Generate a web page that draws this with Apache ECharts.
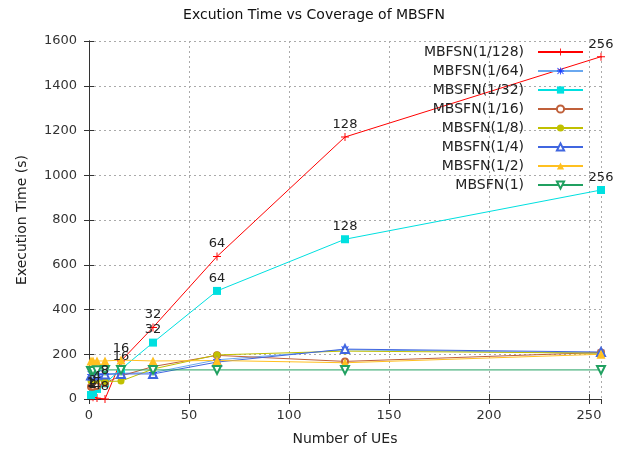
<!DOCTYPE html>
<html>
<head>
<meta charset="utf-8">
<script src="https://cdn.jsdelivr.net/npm/echarts@6/dist/echarts.min.js"></script>
<style>
  html, body { margin: 0; padding: 0; background: #fff; }
  #main { width: 628px; height: 457px; }
</style>
</head>
<body>
<div id="main"></div>
<script>
// number of UEs (x values)
var ues = [1, 2, 4, 8, 16, 32, 64, 128, 256];
// execution time (s) per coverage
var mbsfn128 = [12, 8, 4, 0, 170, 320, 637, 1171, 1530];
var mbsfn64 = [110, 110, 112, 112, 115, 118, 175, 220, 205];
var mbsfn32 = [18, 28, 45, 70, 133, 252, 483, 714, 934];
var mbsfn16 = [55, 55, 58, 72, 103, 145, 195, 168, 208];
var mbsfn8 = [82, 82, 85, 78, 80, 134, 197, 214, 205];
var mbsfn4 = [105, 105, 108, 110, 112, 112, 165, 223, 210];
var mbsfn2 = [170, 170, 170, 170, 174, 170, 172, 162, 200];
var mbsfn1 = [125, 125, 128, 130, 130, 130, 130, 130, 130];
var yTicks = [0, 200, 400, 600, 800, 1000, 1200, 1400, 1600];
var xTicks = [0, 50, 100, 150, 200, 250];

var FONT = 'DejaVu Sans';
var plus = 'path://M4.4,0h1.2v10h-1.2zM0,4.4h10v1.2h-10z';
var star = 'path://M4.4,0h1.2v10h-1.2zM0,4.4h10v1.2h-10zM1.2,0.35L9.65,8.8L8.8,9.65L0.35,1.2zM8.8,0.35L9.65,1.2L1.2,9.65L0.35,8.8z';

function pairs(vals) {
  var out = [];
  for (var i = 0; i < ues.length; i++) out.push([ues[i], vals[i]]);
  return out;
}

function mkSeries(name, vals, color, symbol, opts) {
  opts = opts || {};
  var s = {
    name: name,
    type: 'line',
    data: pairs(vals),
    symbol: symbol,
    symbolSize: opts.size || 7,
    symbolRotate: opts.rotate || 0,
    showAllSymbol: true,
    lineStyle: { color: color, width: 1 },
    itemStyle: { color: opts.markColor || color, borderWidth: 1 },
    emphasis: { disabled: true },
    animation: false
  };
  if (opts.labels) {
    s.label = {
      show: true, position: 'top', distance: 2,
      fontFamily: FONT, fontSize: 13, color: '#222',
      formatter: function (p) { return p.value[0]; }
    };
  }
  return s;
}

var chart = echarts.init(document.getElementById('main'), null, { renderer: 'canvas' });

var option = {
  animation: false,
  backgroundColor: '#fff',
  title: {
    text: 'Excution Time vs Coverage of MBSFN',
    left: 'center', top: 3,
    textStyle: { fontFamily: FONT, fontSize: 14, fontWeight: 'normal', color: '#111' }
  },
  legend: {
    orient: 'vertical',
    align: 'right',
    right: 44, top: 44,
    padding: 0,
    itemWidth: 45, itemHeight: 9, itemGap: 3,
    textStyle: { fontFamily: FONT, fontSize: 14, color: '#222', lineHeight: 16, padding: [0, 9, 0, 0] },
    data: ['MBFSN(1/128)', 'MBFSN(1/64)', 'MBSFN(1/32)', 'MBSFN(1/16)', 'MBSFN(1/8)', 'MBSFN(1/4)', 'MBSFN(1/2)', 'MBSFN(1)']
  },
  grid: { left: 89, right: 27, top: 41, bottom: 58, containLabel: false },
  xAxis: [{
    type: 'value', min: 0, max: 256, interval: 50,
    name: 'Number of UEs', nameLocation: 'middle', nameGap: 33,
    nameTextStyle: { fontFamily: FONT, fontSize: 14, color: '#222' },
    axisLine: { show: true, lineStyle: { color: '#333', width: 1 } },
    axisTick: { show: true, inside: true, length: 5, lineStyle: { color: '#333' } },
    axisLabel: { fontFamily: FONT, fontSize: 13, color: '#333', margin: 10, showMaxLabel: false,
      formatter: function (v) { return xTicks.indexOf(v) >= 0 ? String(v) : ''; } },
    splitLine: { show: true, lineStyle: { color: '#aaa', type: [2, 3], width: 1 } }
  }, {
    type: 'value', min: 0, max: 256, interval: 50, position: 'top',
    axisLine: { show: true, lineStyle: { color: '#333', width: 1 } },
    axisTick: { show: true, inside: true, length: 5, lineStyle: { color: '#333' } },
    axisLabel: { show: false },
    splitLine: { show: false }
  }],
  yAxis: [{
    type: 'value', min: 0, max: 1600, interval: 200,
    name: 'Execution Time (s)', nameLocation: 'middle', nameGap: 60,
    nameTextStyle: { fontFamily: FONT, fontSize: 14, color: '#222' },
    axisLine: { show: true, lineStyle: { color: '#333', width: 1 } },
    axisTick: { show: true, inside: true, length: 5, lineStyle: { color: '#333' } },
    axisLabel: { fontFamily: FONT, fontSize: 13, color: '#333', margin: 12,
      formatter: function (v) { return yTicks.indexOf(v) >= 0 ? String(v) : ''; } },
    splitLine: { show: true, lineStyle: { color: '#aaa', type: [2, 3], width: 1 } }
  }, {
    type: 'value', min: 0, max: 1600, interval: 200, position: 'right',
    axisLine: { show: true, lineStyle: { color: '#333', width: 1 } },
    axisTick: { show: true, inside: true, length: 5, lineStyle: { color: '#333' } },
    axisLabel: { show: false },
    splitLine: { show: false }
  }],
  series: [
    mkSeries('MBFSN(1/128)', mbsfn128, '#ff0000', plus, { size: 8, labels: true }),
    mkSeries('MBFSN(1/64)', mbsfn64, '#6aa8f0', star, { size: 8, markColor: '#1a3cff' }),
    mkSeries('MBSFN(1/32)', mbsfn32, '#00e0e0', 'rect', { size: 8, labels: true }),
    mkSeries('MBSFN(1/16)', mbsfn16, '#c0603a', 'emptyCircle', { size: 6 }),
    mkSeries('MBSFN(1/8)', mbsfn8, '#c0c000', 'circle', { size: 7 }),
    mkSeries('MBSFN(1/4)', mbsfn4, '#4066e0', 'emptyTriangle', { size: 8 }),
    mkSeries('MBSFN(1/2)', mbsfn2, '#ffc020', 'triangle', { size: 9 }),
    mkSeries('MBSFN(1)', mbsfn1, '#20a060', 'emptyTriangle', { size: 8, rotate: 180 })
  ]
};

chart.setOption(option);
</script>
</body>
</html>
